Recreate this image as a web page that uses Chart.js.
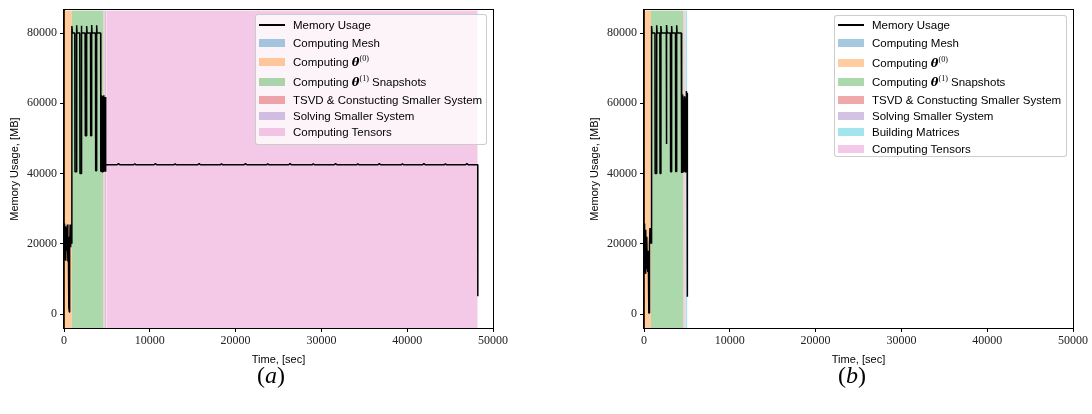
<!DOCTYPE html>
<html><head><meta charset="utf-8">
<script src="https://cdn.jsdelivr.net/npm/chart.js@4.4.1/dist/chart.umd.min.js"></script>
<style>
html,body{margin:0;padding:0;background:#fff;}
#wrap{position:relative;width:1092px;height:414px;overflow:hidden;background:#fff;}
.panel{position:absolute;top:0;width:512px;height:414px;}
.legend{position:absolute;background:rgba(255,255,255,0.8);border:1px solid rgba(200,200,200,0.9);border-radius:3px;box-sizing:border-box;font-family:"Liberation Sans",Arial,sans-serif;font-size:11.5px;color:#000;}
.row{position:absolute;height:16px;line-height:16px;white-space:nowrap;}
.hl{position:absolute;width:26px;height:2px;background:#000;}
.hp{position:absolute;width:26px;height:8px;}
.math{font-family:"DejaVu Serif","Liberation Serif",serif;font-weight:bold;font-style:italic;}
sup{font-size:8px;line-height:0;vertical-align:5px;font-family:"Liberation Serif",serif;}
.caption{position:absolute;top:359px;width:60px;text-align:center;font-family:"Liberation Serif",serif;font-size:24px;line-height:32px;color:#000;}
</style></head>
<body><div id="wrap">
<div class="panel" style="left:0"><canvas id="c1" width="512" height="414"></canvas></div>
<div class="panel" style="left:580px"><canvas id="c2" width="512" height="414"></canvas></div>
<div class="caption" style="left:241px">(<i>a</i>)</div>
<div class="caption" style="left:822px">(<i>b</i>)</div>
</div>
<script>
// ---- data ----
const xTicks = [0, 10000, 20000, 30000, 40000, 50000];
const yTicks = [0, 20000, 40000, 60000, 80000];
const xRange = [0, 50000];
const yRange = [-3970, 86520];

const leftTime = [0,40,80,130,180,230,290,340,400,450,500,560,620,660,720,780,840,900,
 932,980,1260,1282,1400,1476,1520,1840,1865,1990,2020,2070,2460,2486,2620,2642,2690,3090,3108,3200,3225,3270,3670,3691,3780,3807,3850,4274,4290,
 4330,4360,4400,4430,4470,4500,4540,4580,4620,4660,4700,4740,4780,4820,4860,4895,
 6200,6350,6500, 8100,8250,8400, 10500,10650,10800, 12800,12950,13100, 15600,15750,15900, 18200,18350,18500,
 21000,21150,21300, 23600,23750,23900, 26200,26350,26500, 28900,29050,29200, 31500,31650,31800, 34100,34250,34400,
 36600,36750,36900, 39300,39450,39600, 41800,41950,42100, 44300,44450,44600, 46800,46950,47100,
 48220,48230];
const leftMem = [25500,15500,25800,16000,25000,15200,24500,18000,25500,15000,22000,2000,600,19000,25500,19000,24000,20000,
 82000,80000,80000,40500,40500,82200,80000,80000,40000,40000,82100,80000,80000,50800,50800,82000,80000,80000,50800,50800,82300,80000,80000,40800,40800,82200,80000,80000,40500,
 62300,40500,61800,40600,62000,40400,61500,40800,62300,40500,60000,40600,61800,40500,58000,42500,
 42500,42850,42500, 42500,42800,42500, 42500,42850,42500, 42500,42800,42500, 42500,42850,42500, 42500,42800,42500,
 42500,42850,42500, 42500,42800,42500, 42500,42850,42500, 42500,42800,42500, 42500,42850,42500, 42500,42800,42500,
 42500,42850,42500, 42500,42800,42500, 42500,42850,42500, 42500,42800,42500, 42500,42850,42500,
 42500,5100];

const rightTime = [0,40,90,140,200,260,320,380,440,500,560,600,640,700,760,820,870,
 897,940,1280,1300,1460,1480,1530,1850,1870,1960,1980,2030,2600,2620,2640,2690,3080,3100,3200,3220,3270,3670,3690,3790,3810,3860,4350,4370,
 4400,4430,4470,4500,4540,4580,4620,4660,4700,4740,4780,4820,4860,4900,4930,4950,5030,5050,5060];
const rightMem = [25800,12000,25000,11600,24000,13000,22000,15000,12000,18000,300,280,20000,24500,20000,24500,20000,
 82000,80000,80000,40000,40000,82200,80000,80000,40000,40000,82000,80000,80000,48400,82300,80000,80000,40500,40500,82000,80000,80000,40600,40600,82200,80000,80000,40200,
 62000,40500,61500,40300,62500,40800,61000,40400,62000,40600,60500,40300,61500,40500,63500,50300,50300,63000,4900];

const phaseColors = {
  "Computing Mesh": "rgba(31,119,180,0.4)",
  "Computing theta0": "rgba(255,127,14,0.4)",
  "Computing theta1 Snapshots": "rgba(44,160,44,0.4)",
  "TSVD & Constucting Smaller System": "rgba(214,39,40,0.4)",
  "Solving Smaller System": "rgba(148,103,189,0.4)",
  "Building Matrices": "rgba(23,190,207,0.4)",
  "Computing Tensors": "rgba(227,119,194,0.4)"
};
const phaseLabelHtml = {
  "Computing Mesh": "Computing Mesh",
  "Computing theta0": "Computing <span class=\"math\">θ</span><sup>(0)</sup>",
  "Computing theta1 Snapshots": "Computing <span class=\"math\">θ</span><sup>(1)</sup> Snapshots",
  "TSVD & Constucting Smaller System": "TSVD &amp; Constucting Smaller System",
  "Solving Smaller System": "Solving Smaller System",
  "Building Matrices": "Building Matrices",
  "Computing Tensors": "Computing Tensors"
};
const leftPhaseNames = ["Computing Mesh","Computing theta0","Computing theta1 Snapshots","TSVD & Constucting Smaller System","Solving Smaller System","Computing Tensors"];
const leftPhaseStart = [0, 20, 930, 4580, 4740, 4930];
const leftPhaseEnd   = [20, 930, 4580, 4740, 4930, 48220];
const rightPhaseNames = ["Computing Mesh","Computing theta0","Computing theta1 Snapshots","TSVD & Constucting Smaller System","Solving Smaller System","Building Matrices","Computing Tensors"];
const rightPhaseStart = [0, 20, 815, 4580, 4740, 4860, 5050];
const rightPhaseEnd   = [20, 815, 4580, 4740, 4860, 5050, 5080];

// ---- chart ----
const frame = {id:'frame', afterDatasetsDraw(c){
  const a=c.chartArea, ctx=c.ctx; ctx.save(); ctx.strokeStyle='#000'; ctx.lineWidth=1;
  ctx.strokeRect(Math.round(a.left)-0.5, Math.round(a.top)-0.5, Math.round(a.right-a.left)+1, Math.round(a.bottom-a.top)+1);
  ctx.restore();
}};

function build(id, time, mem, names, starts, ends){
  const datasets = [{
    data: time.map((t,i)=>({x:t, y:mem[i]})),
    borderColor:'#000', borderWidth:1.5, borderJoinStyle:'bevel', pointRadius:0, fill:false, tension:0
  }];
  names.forEach((n,i)=>{
    datasets.push({
      data:[{x:starts[i], y:yRange[1]},{x:ends[i], y:yRange[1]}],
      backgroundColor: phaseColors[n], borderColor:'rgba(0,0,0,0)', borderWidth:0.01,
      pointRadius:0, fill:'start', tension:0
    });
  });
  new Chart(document.getElementById(id), {
    type:'line',
    data:{datasets},
    plugins:[frame],
    options:{
      responsive:false, animation:false, events:[],
      layout:{padding:{left:0, right:19, top:9, bottom:46}},
      plugins:{legend:{display:false}, tooltip:{enabled:false}},
      scales:{
        x:{type:'linear', min:xRange[0], max:xRange[1],
          afterBuildTicks:s=>{s.ticks=xTicks.map(v=>({value:v}));},
          afterFit:s=>{s.height=40;},
          ticks:{font:{family:'Liberation Serif', size:12}, color:'#222', padding:2, maxRotation:0, autoSkip:false, callback:v=>String(v)},
          grid:{drawOnChartArea:false, drawTicks:true, tickLength:4, tickColor:'#000'},
          border:{display:true, color:'#000'},
          title:{display:true, text:'Time, [sec]', color:'#000', font:{family:'Liberation Sans', size:11}, padding:{top:0, bottom:1}}
        },
        y:{type:'linear', min:yRange[0], max:yRange[1],
          afterBuildTicks:s=>{s.ticks=yTicks.map(v=>({value:v}));},
          afterFit:s=>{s.width=64;},
          ticks:{font:{family:'Liberation Serif', size:12}, color:'#222', padding:3, callback:v=>String(v)},
          grid:{drawOnChartArea:false, drawTicks:true, tickLength:4, tickColor:'#000'},
          border:{display:true, color:'#000'},
          title:{display:true, text:'Memory Usage, [MB]', color:'#000', font:{family:'Liberation Sans', size:11}, padding:{top:8, bottom:0}}
        }
      }
    }
  });
}
build('c1', leftTime, leftMem, leftPhaseNames, leftPhaseStart, leftPhaseEnd);
build('c2', rightTime, rightMem, rightPhaseNames, rightPhaseStart, rightPhaseEnd);

// ---- legends (HTML) ----
function legend(left, top, width, height, names, rowCenters){
  const box=document.createElement('div'); box.className='legend';
  box.style.left=left+'px'; box.style.top=top+'px'; box.style.width=width+'px'; box.style.height=height+'px';
  const items=[{line:true, html:'Memory Usage'}].concat(names.map(n=>({color:phaseColors[n], html:phaseLabelHtml[n]})));
  items.forEach((it,i)=>{
    const cy=rowCenters[i]-top;
    const h=document.createElement('div');
    if(it.line){h.className='hl'; h.style.top=(cy-1)+'px';}
    else {h.className='hp'; h.style.top=(cy-4)+'px'; h.style.background=it.color;}
    h.style.left='3px'; box.appendChild(h);
    const r=document.createElement('div'); r.className='row'; r.style.left='37px'; r.style.top=(cy-8)+'px';
    r.innerHTML=it.html; box.appendChild(r);
  });
  document.getElementById('wrap').appendChild(box);
}
legend(255, 14, 232, 131, leftPhaseNames, [24,41.5,61,81,98.5,114.5,131]);
legend(834, 15, 233, 142, rightPhaseNames, [24,41.5,61.5,81,98.5,114.5,131,147.5]);
</script>
</body></html>
